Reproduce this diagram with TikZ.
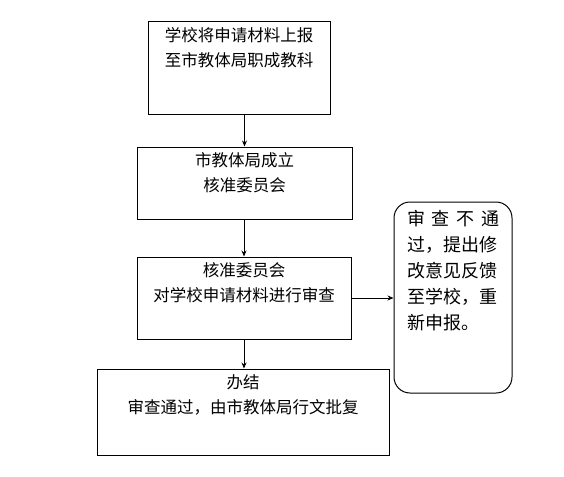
\documentclass[tikz,border=0pt]{standalone}
\usepackage{fontspec}
\newfontfamily\cjk{Noto Sans CJK SC}
\usetikzlibrary{arrows.meta}
\tikzset{
  box/.style={draw, line width=1pt},
  txt/.style={font=\cjk\fontsize{16.5}{24.5}\selectfont, align=center, inner sep=0pt, anchor=north},
  go/.style={-{Stealth[length=6pt,width=5pt]}, line width=0.8pt}
}
\begin{document}
\begin{tikzpicture}[x=1pt,y=-1pt]
\useasboundingbox[fill=white] (0,0) rectangle (564,476);
% boxes
\node[box, minimum width=182pt, minimum height=92pt] (report) at (239,68) {};
\node[box, minimum width=215pt, minimum height=72pt] (found) at (244.5,183) {};
\node[box, minimum width=214pt, minimum height=82pt] (check) at (244,298) {};
\node[box, minimum width=292pt, minimum height=86pt] (done) at (243,412) {};
\node[box, rounded corners=16pt, minimum width=118pt, minimum height=191pt] (back) at (453,297.5) {};
% texts
\node[txt] (reportT) at ([yshift=-6pt]report.north) {学校将申请材料上报\\至市教体局职成教科};
\node[txt] (foundT) at ([yshift=-6pt]found.north) {市教体局成立\\核准委员会};
\node[txt] (checkT) at ([yshift=-6pt]check.north) {核准委员会\\对学校申请材料进行审查};
\node[txt] (doneT) at ([yshift=-6pt]done.north) {办结\\审查通过，由市教体局行文批复};
\node[txt, align=left, text width=92pt, font=\cjk\fontsize{18}{26}\selectfont] (backT) at ([yshift=-9pt]back.north)
  {\makebox[92pt][s]{审\hfill 查\hfill 不\hfill 通}\\过，提出修\\改意见反馈\\至学校，重\\新申报。};
% arrows
\draw[go] (found.north |- report.south) -- (found.north);
\draw[go] (found.south -| check.north) -- (check.north);
\draw[go] (check.south) -- (check.south |- done.north);
\draw[go] (check.east) -- (check.east -| back.west);
\end{tikzpicture}
\end{document}
